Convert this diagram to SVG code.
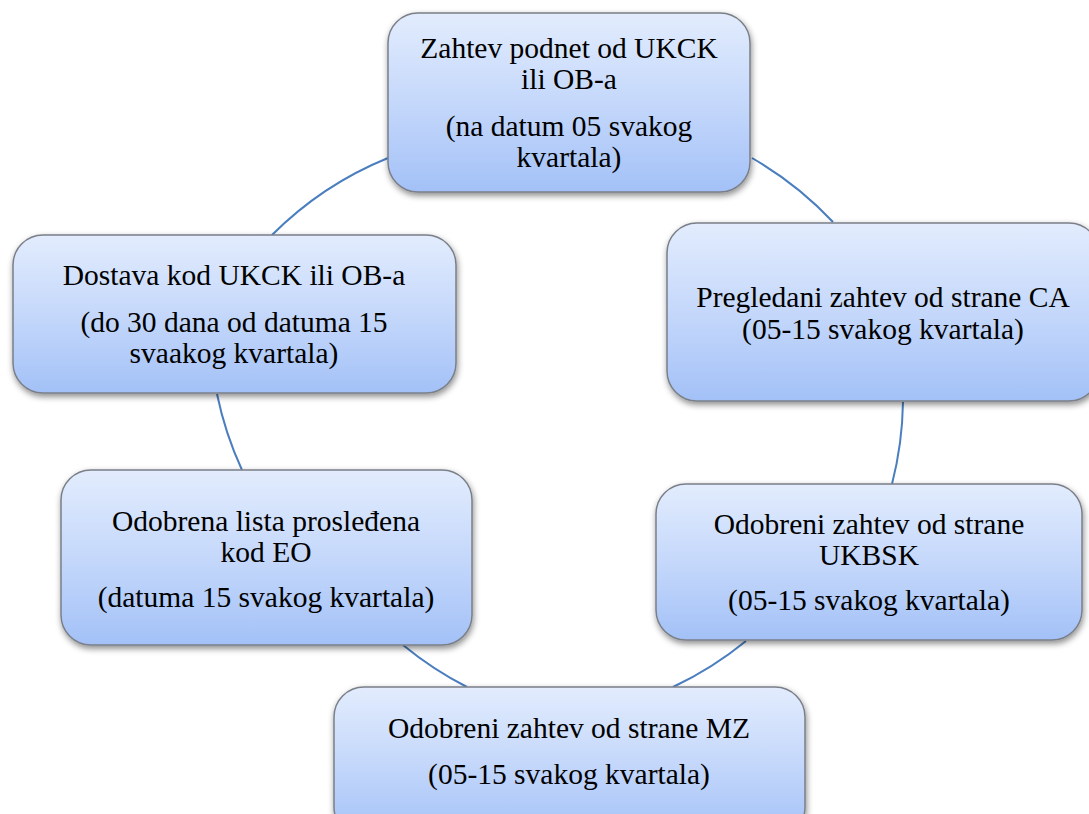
<svg xmlns="http://www.w3.org/2000/svg" width="1089" height="814" viewBox="0 0 1089 814">
<defs>
<linearGradient id="g" x1="0" y1="0" x2="0" y2="1">
<stop offset="0" stop-color="#e2ecfd"/>
<stop offset="0.5" stop-color="#c5d8fb"/>
<stop offset="1" stop-color="#a3c1f7"/>
</linearGradient>
<filter id="sh" x="-10%" y="-10%" width="120%" height="130%">
<feDropShadow dx="1" dy="3" stdDeviation="3" flood-color="#000" flood-opacity="0.45"/>
</filter>
</defs>
<style>
.box{fill:url(#g);stroke:#7a7f88;stroke-width:1.5;filter:url(#sh)}
.t{font-family:"Liberation Serif","Times New Roman",serif;font-size:29.5px;fill:#000;text-anchor:middle}
.c{fill:none;stroke:#4a7ebf;stroke-width:2}
</style>
<rect width="1089" height="814" fill="#fff"/>
<g id="connectors">
<path class="c" d="M272,235 A350,350 0 0 1 388,158"/>
<path class="c" d="M752,158 A350,350 0 0 1 833,222"/>
<path class="c" d="M903,402 A350,350 0 0 1 892,484"/>
<path class="c" d="M746,641 A350,350 0 0 1 673,687"/>
<path class="c" d="M467,687 A350,350 0 0 1 403,645"/>
<path class="c" d="M242,470 A350,350 0 0 1 217,394"/>
</g>
<g id="n1">
<rect class="box" x="388" y="13" width="362" height="179" rx="30"/>
<text class="t" x="569" y="58">Zahtev podnet od UKCK</text>
<text class="t" x="569" y="89">ili OB-a</text>
<text class="t" x="569" y="136">(na datum 05 svakog</text>
<text class="t" x="569" y="167">kvartala)</text>
</g>
<g id="n2">
<rect class="box" x="667" y="223" width="432" height="178" rx="30"/>
<text class="t" x="883" y="307">Pregledani zahtev od strane CA</text>
<text class="t" x="883" y="339">(05-15 svakog kvartala)</text>
</g>
<g id="n3">
<rect class="box" x="656" y="484" width="426" height="156" rx="30"/>
<text class="t" x="869" y="534">Odobreni zahtev od strane</text>
<text class="t" x="869" y="565">UKBSK</text>
<text class="t" x="869" y="610">(05-15 svakog kvartala)</text>
</g>
<g id="n4">
<rect class="box" x="334" y="687" width="471" height="150" rx="30"/>
<text class="t" x="569" y="738">Odobreni zahtev od strane MZ</text>
<text class="t" x="569" y="784">(05-15 svakog kvartala)</text>
</g>
<g id="n5">
<rect class="box" x="61" y="470" width="411" height="175" rx="30"/>
<text class="t" x="266" y="531">Odobrena lista prosleđena</text>
<text class="t" x="266" y="562">kod EO</text>
<text class="t" x="266" y="607">(datuma 15 svakog kvartala)</text>
</g>
<g id="n6">
<rect class="box" x="13" y="235" width="443" height="158" rx="30"/>
<text class="t" x="234" y="285">Dostava kod UKCK ili OB-a</text>
<text class="t" x="234" y="332">(do 30 dana od datuma 15</text>
<text class="t" x="234" y="363">svaakog kvartala)</text>
</g>
</svg>
